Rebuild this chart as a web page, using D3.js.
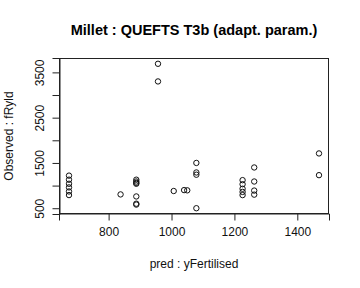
<!DOCTYPE html>
<html><head><meta charset="utf-8">
<script src="https://cdn.jsdelivr.net/npm/d3@7"></script>
<style>body{margin:0;background:#fff}svg{display:block}</style>
</head><body>
<script>
const predX = [674,674,674,674,674,674, 838, 888,888,888,888,888,888,888, 957,957, 1007, 1040,1050, 1079,1079,1079,1079, 1226,1226,1226,1226,1226, 1263,1263,1263,1263, 1469,1469];
const obsY  = [1220,1130,1040,960,870,790, 805, 1130,1090,1060,1040,760,600,580, 3690,3300, 880, 900,895, 1500,1290,1240,500, 1120,1030,930,860,790, 1400,1090,890,800, 1710,1230];
const xTicks = [800,1000,1200,1400];
const yTicks = [500,1000,1500,2000,2500,3000,3500];
const yLabels = [500,1500,2500,3500];

const W=360,H=288;
const L=59,R=329,T=58,B=214;
const svg=d3.select("body").append("svg").attr("width",W).attr("height",H);
const font="Liberation Sans, Arial, sans-serif";

function ext(a){const [mn,mx]=d3.extent(a);const d=(mx-mn)*0.04;return [mn-d,mx+d];}
const x=d3.scaleLinear().domain(ext(predX)).range([L,R]);
const y=d3.scaleLinear().domain(ext(obsY)).range([B,T]);

svg.append("rect").attr("x",L+0.5).attr("y",T+0.5).attr("width",R-L-1).attr("height",B-T-1)
  .attr("fill","none").attr("stroke","#222").attr("stroke-width",1);

const xa=svg.append("g").attr("transform",`translate(0,${B-0.5})`)
  .call(d3.axisBottom(x).tickValues(xTicks).tickSize(7).tickPadding(7).tickFormat(d3.format("d")));
xa.select(".domain").attr("stroke","#222");
xa.selectAll(".tick line").attr("stroke","#222");
xa.selectAll("text").attr("font-family",font).attr("font-size",12).attr("fill","#111");

const ya=svg.append("g").attr("transform",`translate(${L+0.5},0)`)
  .call(d3.axisLeft(y).tickValues(yTicks).tickSize(7).tickFormat(d=>yLabels.includes(d)?d:""));
ya.select(".domain").attr("stroke","#222");
ya.selectAll(".tick line").attr("stroke","#222");
ya.selectAll("text").attr("font-family",font).attr("font-size",12).attr("fill","#111")
  .attr("text-anchor","middle").attr("dy",null).attr("x",null)
  .attr("transform","translate(-16,0) rotate(-90)");

svg.append("g").selectAll("circle").data(predX).join("circle")
  .attr("cx",(d,i)=>x(d)).attr("cy",(d,i)=>y(obsY[i])).attr("r",2.7)
  .attr("fill","none").attr("stroke","#111").attr("stroke-width",1);

svg.append("text").attr("x",(L+R)/2).attr("y",35).attr("text-anchor","middle")
  .attr("font-family",font).attr("font-weight","bold").attr("font-size",14.5).attr("fill","#000")
  .text("Millet : QUEFTS T3b (adapt. param.)");
svg.append("text").attr("x",(L+R)/2).attr("y",268).attr("text-anchor","middle")
  .attr("font-family",font).attr("font-size",12).attr("fill","#111").text("pred : yFertilised");
svg.append("text").attr("transform",`translate(13,${(T+B)/2}) rotate(-90)`).attr("text-anchor","middle")
  .attr("font-family",font).attr("font-size",12).attr("fill","#111").text("Observed : fRyld");
</script>
</body></html>
